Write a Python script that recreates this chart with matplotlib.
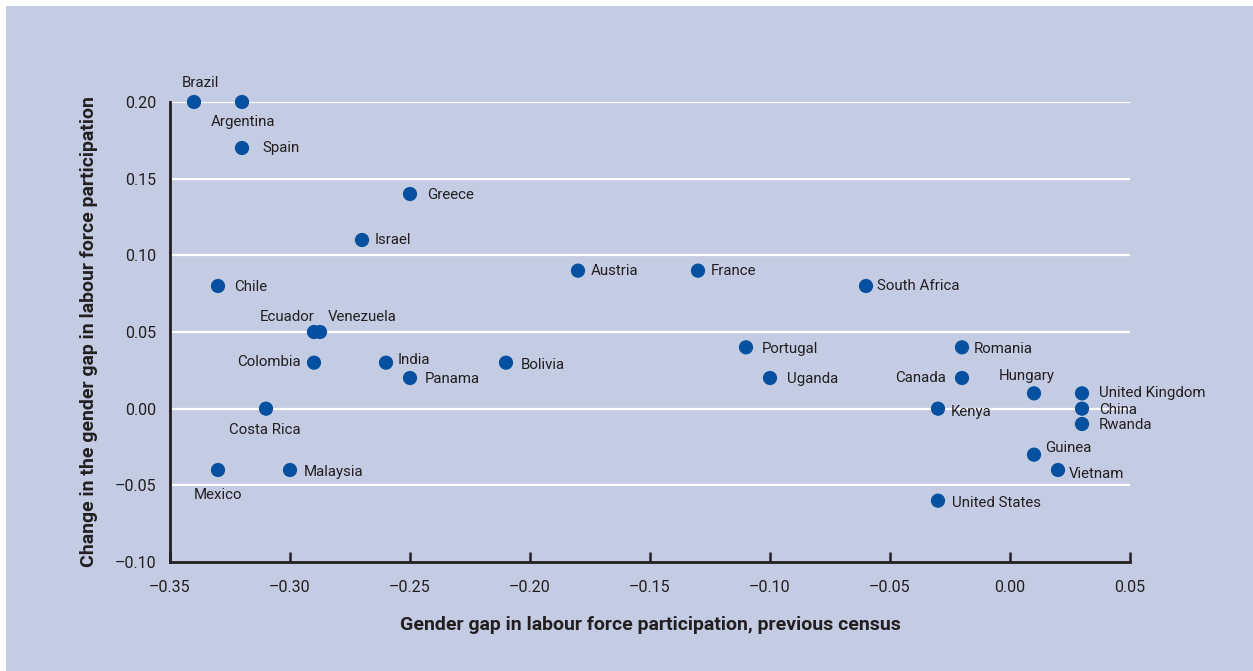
import matplotlib
matplotlib.use("Agg")
import matplotlib.pyplot as plt
from matplotlib.patches import Rectangle

# ---- data ----
countries = ["Brazil", "Argentina", "Spain", "Greece", "Israel", "Chile", "Austria",
             "France", "South Africa", "Ecuador", "Venezuela", "Colombia", "India",
             "Panama", "Bolivia", "Portugal", "Uganda", "Romania", "Canada", "Hungary",
             "United Kingdom", "China", "Rwanda", "Kenya", "Costa Rica", "Guinea",
             "Vietnam", "United States", "Mexico", "Malaysia"]
gap_prev = [-0.34, -0.32, -0.32, -0.25, -0.27, -0.33, -0.18,
            -0.13, -0.06, -0.29, -0.2875, -0.29, -0.26,
            -0.25, -0.21, -0.11, -0.10, -0.02, -0.02, 0.01,
            0.03, 0.03, 0.03, -0.03, -0.31, 0.01,
            0.02, -0.03, -0.33, -0.30]
gap_change = [0.20, 0.20, 0.17, 0.14, 0.11, 0.08, 0.09,
              0.09, 0.08, 0.05, 0.05, 0.03, 0.03,
              0.02, 0.03, 0.04, 0.02, 0.04, 0.02, 0.01,
              0.01, 0.00, -0.01, 0.00, 0.00, -0.03,
              -0.04, -0.06, -0.04, -0.04]
xticks = [-0.35, -0.30, -0.25, -0.20, -0.15, -0.10, -0.05, 0.00, 0.05]
xtick_labels = ["\u20130.35", "\u20130.30", "\u20130.25", "\u20130.20", "\u20130.15",
                "\u20130.10", "\u20130.05", "0.00", "0.05"]
yticks = [-0.10, -0.05, 0.00, 0.05, 0.10, 0.15, 0.20]
ytick_labels = ["\u20130.10", "\u20130.05", "0.00", "0.05", "0.10", "0.15", "0.20"]
xlabel = "Gender gap in labour force participation, previous census"
ylabel = "Change in the gender gap in labour force participation"

# ---- label placement (pixel offsets, alignment) ----
R = ("left", "center")
label_pos = {
    "Brazil": ((6, 19), "center", "center"),
    "Argentina": ((1, -20), "center", "center"),
    "Spain": ((20, 0), *R),
    "Greece": ((17, -1), *R),
    "Israel": ((13, 0), *R),
    "Chile": ((16, -1), *R),
    "Austria": ((13, 0), *R),
    "France": ((13, 0), *R),
    "South Africa": ((11, 0), *R),
    "Ecuador": ((1, 15), "right", "center"),
    "Venezuela": ((8, 15), "left", "center"),
    "Colombia": ((-13, 1), "right", "center"),
    "India": ((12, 3), *R),
    "Panama": ((15, -1), *R),
    "Bolivia": ((15, -2), *R),
    "Portugal": ((16, -2), *R),
    "Uganda": ((17, -1), *R),
    "Romania": ((12, -2), *R),
    "Canada": ((-16, 0), "right", "center"),
    "Hungary": ((-7, 17), "center", "center"),
    "United Kingdom": ((17, 0), *R),
    "China": ((17, -1), *R),
    "Rwanda": ((17, -1), *R),
    "Kenya": ((13, -3), *R),
    "Costa Rica": ((-1, -21), "center", "center"),
    "Guinea": ((11, 7), *R),
    "Vietnam": ((11, -4), *R),
    "United States": ((14, -2), *R),
    "Mexico": ((0, -25), "center", "center"),
    "Malaysia": ((14, -2), *R),
}

BG = "#c4cce4"
DOT = "#0550a0"
INK = "#231f20"
FONT = ["Liberation Sans Narrow", "Roboto", "DejaVu Sans"]
plt.rcParams["font.family"] = FONT

fig = plt.figure(figsize=(12.53, 6.71), dpi=100, facecolor="white")
fig.patches.append(Rectangle((6 / 1253, 0), 1, 1 - 6 / 671, transform=fig.transFigure,
                             facecolor=BG, edgecolor="none", zorder=-10))
ax = fig.add_axes([170 / 1253, 1 - 562 / 671, 960 / 1253, 460 / 671])
ax.set_facecolor(BG)
ax.set_xlim(-0.35, 0.05)
ax.set_ylim(-0.10, 0.20)

for y in yticks[1:]:
    ax.axhline(y, color="white", lw=1.6, zorder=1)

ax.scatter(gap_prev, gap_change, s=105, color=DOT, edgecolors="none", zorder=3, clip_on=False)

for name, x, y in zip(countries, gap_prev, gap_change):
    off, ha, va = label_pos[name]
    ax.annotate(name, (x, y), xytext=off, textcoords="offset pixels", ha=ha, va=va,
                fontsize=10.8, color=INK, zorder=4)

for s in ["top", "right"]:
    ax.spines[s].set_visible(False)
for s in ["left", "bottom"]:
    ax.spines[s].set_color(INK)
    ax.spines[s].set_linewidth(2.0)

ax.set_xticks(xticks)
ax.set_xticklabels(xtick_labels)
ax.set_yticks(yticks)
ax.set_yticklabels(ytick_labels)
ax.tick_params(axis="x", direction="in", length=7, width=1.8, color=INK, pad=13,
               labelsize=11.5, labelcolor=INK)
ax.tick_params(axis="y", length=0, pad=10, labelsize=11.5, labelcolor=INK)

ax.set_xlabel(xlabel, fontsize=14, fontweight="bold", color=INK, labelpad=15)
ax.set_ylabel(ylabel, fontsize=14, fontweight="bold", color=INK, labelpad=12)

fig.savefig("out.png", dpi=100, facecolor="white")
